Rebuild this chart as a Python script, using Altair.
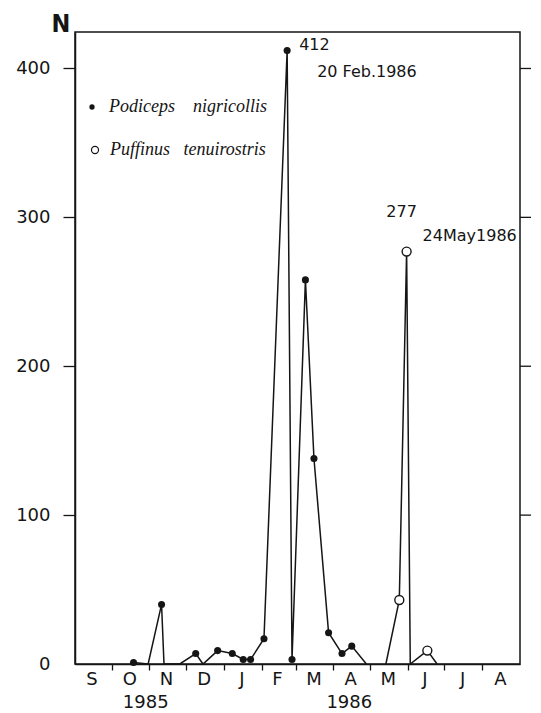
import altair as alt
import pandas as pd

# ---- data ----
pod_dates = ["1985-10-19", "1985-10-31", "1985-11-11", "1985-11-13", "1985-11-26",
             "1985-12-09", "1985-12-15", "1985-12-27", "1986-01-08", "1986-01-17",
             "1986-01-23", "1986-02-03", "1986-02-22", "1986-02-26", "1986-03-09",
             "1986-03-16", "1986-03-28", "1986-04-08", "1986-04-16", "1986-04-28"]
pod_counts = [1, 0, 40, 0, 0, 7, 0, 9, 7, 3, 3, 17, 412, 3, 258, 138, 21, 7, 12, 0]

puf_dates = ["1986-05-14", "1986-05-25", "1986-05-31", "1986-06-03", "1986-06-17", "1986-06-25"]
puf_counts = [0, 43, 277, 0, 9, 0]

species = ["Podiceps nigricollis", "Puffinus tenuirostris"]
legend_labels = ["Podiceps\u00a0\u00a0\u00a0\u00a0nigricollis", "Puffinus\u00a0\u00a0\u00a0tenuirostris"]

month_letters = ["S", "O", "N", "D", "J", "F", "M", "A", "M", "J", "J", "A"]
month_mid = ["1985-09-15", "1985-10-16", "1985-11-15", "1985-12-16", "1986-01-16",
             "1986-02-14", "1986-03-16", "1986-04-15", "1986-05-16", "1986-06-15",
             "1986-07-16", "1986-08-16"]
month_ticks = [(1985, 10), (1985, 11), (1985, 12), (1986, 1), (1986, 2), (1986, 3),
               (1986, 4), (1986, 5), (1986, 6), (1986, 7), (1986, 8)]
year_labels = ["1985", "1986"]
year_dates = ["1985-10-29", "1986-04-14"]

y_ticks = [0, 100, 200, 300, 400]
right_ticks = [100, 200, 300, 400]

peak1_date, peak1_count = "1986-02-22", 412
peak2_date, peak2_count = "1986-05-31", 277

# ---- layout ----
W, H = 445, 632
INK = "#151515"
SANS = "DejaVu Sans"

df = pd.DataFrame({
    "date": pod_dates + puf_dates,
    "count": pod_counts + puf_counts,
    "species": [species[0]] * len(pod_dates) + [species[1]] * len(puf_dates),
})

x_scale = alt.Scale(type="utc", domain=[alt.DateTime(year=1985, month=9, date=1, utc=True),
                                        alt.DateTime(year=1986, month=9, date=1, utc=True)])
y_scale = alt.Scale(domain=[0, 424.5], nice=False, zero=True)

X = alt.X("date:T", scale=x_scale, title=None,
          axis=alt.Axis(values=[alt.DateTime(year=y, month=m, date=1, utc=True) for y, m in month_ticks],
                        labels=False, tickSize=6, tickColor=INK, tickWidth=1.3,
                        domainColor=INK, domainWidth=1.5, grid=False, title=None))
Y = alt.Y("count:Q", scale=y_scale, title=None,
          axis=alt.Axis(values=y_ticks, tickSize=12, tickColor=INK, tickWidth=1.3,
                        tickOpacity={"condition": {"test": "datum.value === 0", "value": 0}, "value": 1},
                        labelFont=SANS, labelFontSize=18, labelColor=INK, labelPadding=13,
                        domainColor=INK, domainWidth=1.5, grid=False, title=None))

base = alt.Chart(df)

lines = base.mark_line(color=INK, strokeWidth=1.5).encode(
    x=X, y=Y, detail="species:N", order="date:T")

pod_pts = base.transform_filter(
    (alt.datum.species == species[0]) & (alt.datum.count > 0)
).mark_circle(color=INK, size=50, opacity=1).encode(x="date:T", y="count:Q")

puf_pts = base.transform_filter(
    (alt.datum.species == species[1]) & (alt.datum.count > 0)
).mark_point(shape="circle", filled=False, fill="white", fillOpacity=1, stroke=INK,
             strokeWidth=1.4, size=80, opacity=1).encode(x="date:T", y="count:Q")

right = alt.Chart(pd.DataFrame({"count": right_ticks})).mark_rule(
    color=INK, strokeWidth=1.3).encode(y="count:Q", x=alt.value(W), x2=alt.value(W + 11))

months = alt.Chart(pd.DataFrame({"date": month_mid, "lab": month_letters})).mark_text(
    font=SANS, fontSize=18, color=INK, baseline="middle", align="center"
).encode(x="date:T", y=alt.value(H + 16), text="lab:N")

years = alt.Chart(pd.DataFrame({"date": year_dates, "lab": year_labels})).mark_text(
    font=SANS, fontSize=18, color=INK, baseline="middle", align="center"
).encode(x="date:T", y=alt.value(H + 39), text="lab:N")

n_lab = alt.Chart(pd.DataFrame({"t": ["N"]})).mark_text(
    font="DejaVu Sans Condensed", fontWeight="bold", fontSize=25, color=INK,
    baseline="middle", align="center"
).encode(text="t:N", x=alt.value(-14), y=alt.value(-8))

p1 = pd.DataFrame({"date": [peak1_date], "count": [peak1_count],
                   "a": [str(peak1_count)], "b": ["20 Feb.1986"]})
p2 = pd.DataFrame({"date": [peak2_date], "count": [peak2_count],
                   "a": [str(peak2_count)], "b": ["24May1986"]})

ann1a = alt.Chart(p1).mark_text(font=SANS, fontSize=16, color=INK, align="left",
                                baseline="middle", dx=12, dy=-6).encode(
    x="date:T", y="count:Q", text="a:N")
ann1b = alt.Chart(p1).mark_text(font=SANS, fontSize=16, color=INK, align="left",
                                baseline="middle", dx=30, dy=21).encode(
    x="date:T", y="count:Q", text="b:N")
ann2a = alt.Chart(p2).mark_text(font=SANS, fontSize=16, color=INK, align="center",
                                baseline="middle", dx=-5, dy=-40).encode(
    x="date:T", y="count:Q", text="a:N")
ann2b = alt.Chart(p2).mark_text(font=SANS, fontSize=16, color=INK, align="left",
                                baseline="middle", dx=16, dy=-16).encode(
    x="date:T", y="count:Q", text="b:N")

leg_df = pd.DataFrame({"lab": legend_labels})
leg_dot1 = alt.Chart(pd.DataFrame({"k": [0]})).mark_circle(color=INK, size=28, opacity=1).encode(
    x=alt.value(17), y=alt.value(75))
leg_dot2 = alt.Chart(pd.DataFrame({"k": [0]})).mark_point(
    shape="circle", filled=False, stroke=INK, strokeWidth=1.2, size=50, opacity=1).encode(
    x=alt.value(20), y=alt.value(118))
leg_t1 = alt.Chart(leg_df).transform_filter(alt.datum.lab == legend_labels[0]).mark_text(
    font="Liberation Serif", fontStyle="italic", fontSize=18, color=INK,
    align="left", baseline="middle").encode(text="lab:N", x=alt.value(34), y=alt.value(75))
leg_t2 = alt.Chart(leg_df).transform_filter(alt.datum.lab == legend_labels[1]).mark_text(
    font="Liberation Serif", fontStyle="italic", fontSize=18, color=INK,
    align="left", baseline="middle").encode(text="lab:N", x=alt.value(35), y=alt.value(118))

chart = alt.layer(
    lines, pod_pts, puf_pts, right, months, years, n_lab,
    ann1a, ann1b, ann2a, ann2b, leg_dot1, leg_dot2, leg_t1, leg_t2
).properties(
    width=W, height=H,
    autosize=alt.AutoSizeParams(type="none"),
    padding={"left": 75, "top": 32, "right": 21, "bottom": 49},
    background="white",
).configure_view(stroke=INK, strokeWidth=1.5)

chart.save("out.html", embed_options={"renderer": "svg", "actions": False})
